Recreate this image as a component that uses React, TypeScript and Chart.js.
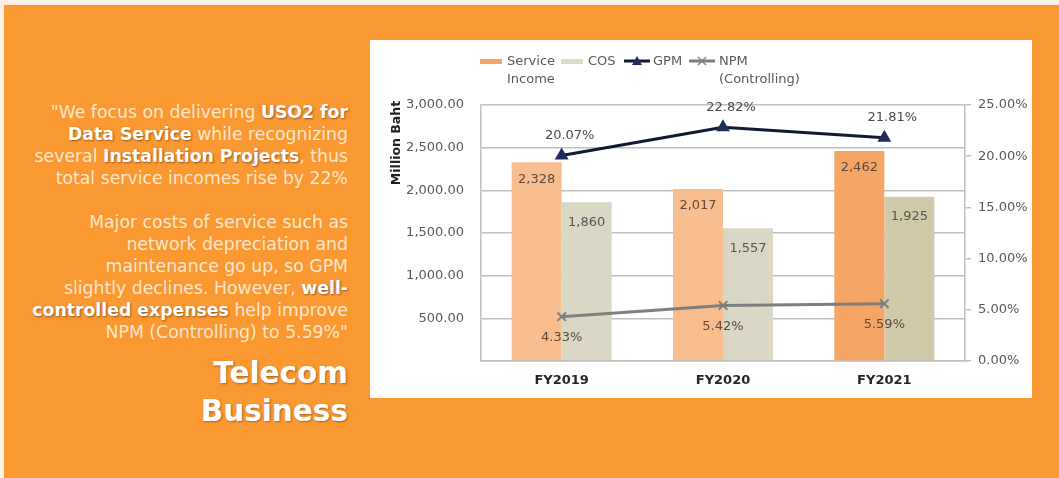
import React, { useEffect, useRef } from "react";
import { Chart, registerables } from "chart.js";
Chart.register(...registerables);

const categories = ["FY2019", "FY2020", "FY2021"];
const serviceIncome = [2328, 2017, 2462];
const cos = [1860, 1557, 1925];
const gpm = [20.07, 22.82, 21.81];
const npm = [4.33, 5.42, 5.59];
const leftMax = 3000;
const leftStep = 500;
const rightMax = 25;
const rightStep = 5;

const FONT = "'DejaVu Sans', sans-serif";
const incomeColors = ["#F8BE90", "#F8BE90", "#F5A564"];
const cosColors = ["#DAD7C4", "#DAD7C4", "#D1CAAA"];

const fmtNum = (v: number) => v.toLocaleString("en-US");
const fmtAxis = (v: number) =>
  v.toLocaleString("en-US", { minimumFractionDigits: 2, maximumFractionDigits: 2 });

const labelPlugin = {
  id: "valueLabels",
  afterDatasetsDraw(chart: any) {
    const ctx = chart.ctx;
    ctx.save();
    ctx.font = `13px ${FONT}`;
    ctx.textAlign = "center";
    ctx.textBaseline = "middle";
    chart.data.datasets.forEach((ds: any, di: number) => {
      const meta = chart.getDatasetMeta(di);
      meta.data.forEach((el: any, i: number) => {
        const v = ds.data[i];
        if (di === 0) {
          ctx.fillStyle = "#5E4A3C";
          ctx.fillText(fmtNum(v), el.x, el.y + 17);
        } else if (di === 1) {
          ctx.fillStyle = "#555555";
          ctx.fillText(fmtNum(v), el.x, el.y + 20);
        } else if (di === 2) {
          ctx.fillStyle = "#4A4A4A";
          ctx.fillText(v.toFixed(2) + "%", el.x + 8, el.y - 20);
        } else {
          ctx.fillStyle = "#5E4A3C";
          ctx.fillText(v.toFixed(2) + "%", el.x, el.y + 21);
        }
      });
    });
    const ya = chart.scales.y;
    ctx.font = `bold 12.5px ${FONT}`;
    ctx.fillStyle = "#222222";
    ctx.translate(27, ya.top + 38);
    ctx.rotate(-Math.PI / 2);
    ctx.fillText("Million Baht", 0, 0);
    ctx.restore();
  },
};

function ChartPanel() {
  const ref = useRef<HTMLCanvasElement>(null);
  useEffect(() => {
    if (!ref.current) return;
    const grid = "#BFBFBF";
    const chart = new Chart(ref.current, {
      type: "bar",
      data: {
        labels: categories,
        datasets: [
          {
            type: "bar",
            label: "Service Income",
            data: serviceIncome,
            backgroundColor: incomeColors,
            yAxisID: "y",
            order: 2,
            categoryPercentage: 0.62,
            barPercentage: 1,
          },
          {
            type: "bar",
            label: "COS",
            data: cos,
            backgroundColor: cosColors,
            yAxisID: "y",
            order: 2,
            categoryPercentage: 0.62,
            barPercentage: 1,
          },
          {
            type: "line",
            label: "GPM",
            data: gpm,
            borderColor: "#111A33",
            backgroundColor: "#1F2D5C",
            borderWidth: 3,
            pointStyle: "triangle",
            pointRadius: 5,
            pointBorderColor: "#1F2D5C",
            yAxisID: "y1",
            order: 0,
          },
          {
            type: "line",
            label: "NPM (Controlling)",
            data: npm,
            borderColor: "#7F7F7F",
            backgroundColor: "#7F7F7F",
            borderWidth: 3,
            pointStyle: "crossRot",
            pointRadius: 6,
            pointBorderWidth: 2,
            yAxisID: "y1",
            order: 1,
          },
        ],
      } as any,
      options: {
        responsive: false,
        animation: false,
        layout: { padding: { top: 65, left: 0, right: 0, bottom: 0 } },
        plugins: { legend: { display: false }, tooltip: { enabled: false } },
        scales: {
          x: {
            grid: { display: false, drawTicks: false },
            border: { display: true, color: grid, width: 1.5 },
            ticks: { padding: 12, color: "#262626", font: { family: FONT, size: 13, weight: "bold" } },
            afterFit: (s: any) => { s.height = 37; },
          },
          y: {
            position: "left",
            min: 0,
            max: leftMax,
            ticks: {
              stepSize: leftStep,
              padding: 17,
              color: "#595959",
              font: { family: FONT, size: 13 },
              callback: (v: any) => (v === 0 ? "" : fmtAxis(v)),
            },
            grid: { color: grid, lineWidth: 1.5, drawTicks: false },
            border: { display: true, color: grid, width: 1.5 },
            afterFit: (s: any) => { s.width = 111; },
          },
          y1: {
            position: "right",
            min: 0,
            max: rightMax,
            ticks: {
              stepSize: rightStep,
              padding: 7,
              color: "#595959",
              font: { family: FONT, size: 13 },
              callback: (v: any) => v.toFixed(2) + "%",
            },
            grid: { drawOnChartArea: false, drawTicks: true, tickLength: 6, color: grid, lineWidth: 1.5 },
            border: { display: true, color: grid, width: 1.5 },
            afterFit: (s: any) => { s.width = 67; },
          },
        },
      } as any,
      plugins: [labelPlugin],
    });
    return () => chart.destroy();
  }, []);
  return <canvas ref={ref} width={662} height={358} style={{ position: "absolute", left: 0, top: 0 }} />;
}

const legendText: React.CSSProperties = {
  position: "absolute",
  fontSize: 13,
  color: "#595959",
  lineHeight: "18px",
  fontFamily: FONT,
};

function Legend() {
  return (
    <div style={{ position: "absolute", left: 0, top: 0 }}>
      <div style={{ position: "absolute", left: 110, top: 19, width: 22, height: 5, background: "#F5A564" }} />
      <div style={{ ...legendText, left: 137, top: 12 }}>Service<br />Income</div>
      <div style={{ position: "absolute", left: 191, top: 19, width: 22, height: 5, background: "#DDDAC8" }} />
      <div style={{ ...legendText, left: 218, top: 12 }}>COS</div>
      <svg style={{ position: "absolute", left: 253, top: 14 }} width={28} height={14}>
        <line x1={1} y1={7} x2={27} y2={7} stroke="#111A33" strokeWidth={3} />
        <polygon points="14,2 19,11 9,11" fill="#1F2D5C" />
      </svg>
      <div style={{ ...legendText, left: 283, top: 12 }}>GPM</div>
      <svg style={{ position: "absolute", left: 318, top: 14 }} width={28} height={14}>
        <line x1={1} y1={7} x2={27} y2={7} stroke="#7F7F7F" strokeWidth={3} />
        <line x1={10} y1={3} x2={18} y2={11} stroke="#7F7F7F" strokeWidth={1.5} />
        <line x1={18} y1={3} x2={10} y2={11} stroke="#7F7F7F" strokeWidth={1.5} />
      </svg>
      <div style={{ ...legendText, left: 349, top: 12 }}>NPM<br />(Controlling)</div>
    </div>
  );
}

const B: React.CSSProperties = { fontWeight: "bold", color: "#FFFFFF", textShadow: "1px 1px 2px rgba(80,40,0,0.55)" };

export default function App() {
  return (
    <div style={{ position: "absolute", left: 0, top: 0, width: 1059, height: 478, background: "#FDF0E2", overflow: "hidden", fontFamily: FONT }}>
      <div style={{ position: "absolute", left: 4, top: 5, right: 0, bottom: 0, background: "#FA9832" }} />
      <div
        style={{
          position: "absolute",
          left: 0,
          width: 348,
          top: 101,
          textAlign: "right",
          fontSize: 17.3,
          lineHeight: "22px",
          color: "#FDE6CC",
          whiteSpace: "nowrap",
        }}
      >
        "We focus on delivering <span style={B}>USO2 for</span><br />
        <span style={B}>Data Service</span> while recognizing<br />
        several <span style={B}>Installation Projects</span>, thus<br />
        total service incomes rise by 22%<br />
        <br />
        Major costs of service such as<br />
        network depreciation and<br />
        maintenance go up, so GPM<br />
        slightly declines. However, <span style={B}>well-</span><br />
        <span style={B}>controlled expenses</span> help improve<br />
        NPM (Controlling) to 5.59%"
      </div>
      <div
        style={{
          position: "absolute",
          left: 0,
          width: 348,
          top: 354,
          textAlign: "right",
          fontSize: 29.5,
          lineHeight: "38px",
          fontWeight: "bold",
          color: "#FFFFFF",
          textShadow: "1px 1px 2px rgba(80,40,0,0.45)",
        }}
      >
        Telecom<br />Business
      </div>
      <div style={{ position: "absolute", left: 370, top: 40, width: 662, height: 358, background: "#FFFFFF" }}>
        <ChartPanel />
        <Legend />
      </div>
    </div>
  );
}
